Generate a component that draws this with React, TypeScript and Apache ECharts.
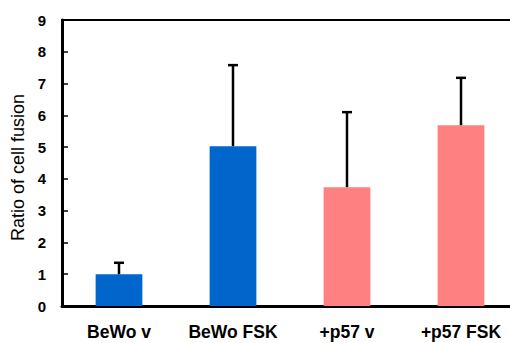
import React, { useEffect, useRef } from "react";
import * as echarts from "echarts";

const categories = ["BeWo v", "BeWo FSK", "+p57 v", "+p57 FSK"];
const means = [1.0, 5.03, 3.74, 5.69];
const errors = [0.36, 2.55, 2.36, 1.49];
const barColors = ["#0066CC", "#0066CC", "#FF8080", "#FF8080"];
const yTicks = { min: 0, max: 9, interval: 1 };

export default function App() {
  const ref = useRef<HTMLDivElement>(null);
  useEffect(() => {
    const chart = echarts.init(ref.current!, null, { renderer: "svg" });
    const font = "'Liberation Sans', Arial, sans-serif";
    chart.setOption({
      animation: false,
      grid: {
        left: 62,
        top: 20,
        right: 2,
        bottom: 37,
        containLabel: false,
        outerBoundsMode: "none",
        show: true,
        borderColor: "#000",
        borderWidth: 2,
      },
      xAxis: {
        type: "category",
        data: categories,
        axisLine: { lineStyle: { color: "#000", width: 3 } },
        axisTick: { inside: true, length: 4, lineStyle: { color: "#000", width: 1.5 } },
        axisLabel: {
          interval: 0,
          color: "#000",
          fontFamily: font,
          fontWeight: "bold",
          fontSize: 17.5,
          lineHeight: 18,
          margin: 17,
        },
      },
      yAxis: {
        type: "value",
        min: yTicks.min,
        max: yTicks.max,
        interval: yTicks.interval,
        name: "Ratio of cell fusion",
        nameLocation: "middle",
        nameGap: 31,
        nameTextStyle: { color: "#000", fontFamily: font, fontSize: 18, padding: [0, 9, 0, 0] },
        splitLine: { show: false },
        axisLine: { show: true, lineStyle: { color: "#000", width: 3 } },
        axisTick: { show: true, inside: true, length: 6, lineStyle: { color: "#000", width: 1.5 } },
        axisLabel: {
          color: "#000",
          fontFamily: font,
          fontWeight: "bold",
          fontSize: 15,
          margin: 16,
        },
      },
      series: [
        {
          type: "bar",
          barWidth: "41%",
          data: means.map((v, i) => ({ value: v, itemStyle: { color: barColors[i] } })),
          z: 2,
        },
        {
          type: "custom",
          z: 3,
          data: means.map((m, i) => [i, m, m + errors[i]]),
          renderItem: (params: any, api: any) => {
            const base = api.coord([api.value(0), api.value(1)]);
            const top = api.coord([api.value(0), api.value(2)]);
            const cap = 5;
            const style = { stroke: "#000", lineWidth: 2.5 };
            return {
              type: "group",
              children: [
                { type: "line", shape: { x1: base[0], y1: base[1], x2: top[0], y2: top[1] }, style },
                { type: "line", shape: { x1: top[0] - cap, y1: top[1], x2: top[0] + cap, y2: top[1] }, style },
              ],
            };
          },
        },
      ],
    });
    return () => chart.dispose();
  }, []);
  return (
    <div
      ref={ref}
      style={{ position: "fixed", left: 0, top: 0, width: 520, height: 343, background: "#fff" }}
    />
  );
}
